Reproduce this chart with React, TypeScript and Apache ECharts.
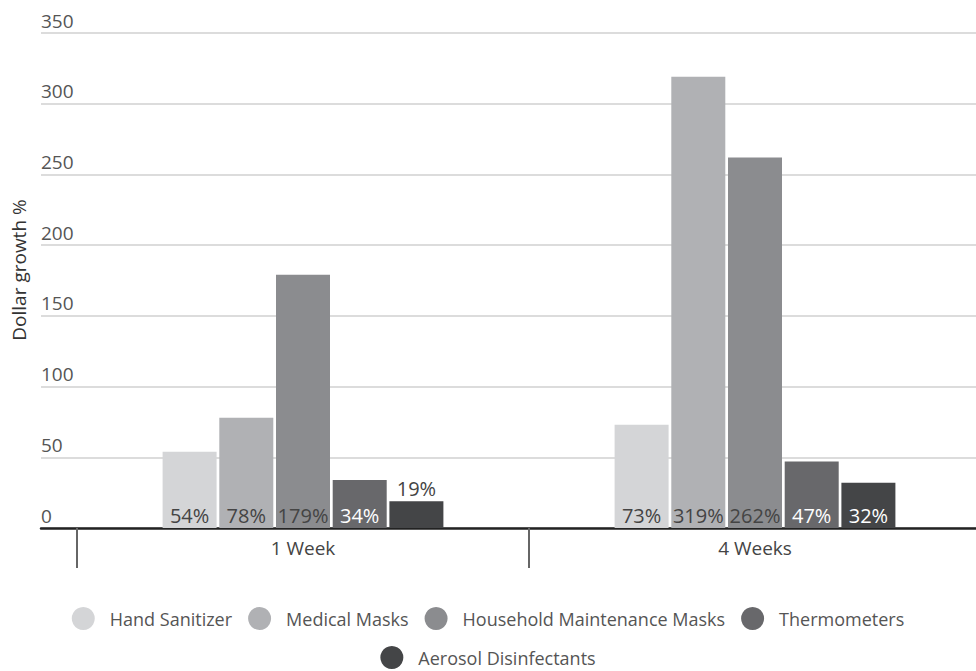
import React, { useEffect, useRef } from "react";
import * as echarts from "echarts";

const categories = ["1 Week", "4 Weeks"];
const seriesNames = [
  "Hand Sanitizer",
  "Medical Masks",
  "Household Maintenance Masks",
  "Thermometers",
  "Aerosol Disinfectants",
];
const handSanitizer = [54, 73];
const medicalMasks = [78, 319];
const householdMasks = [179, 262];
const thermometers = [34, 47];
const aerosolDisinfectants = [19, 32];
const yTicks = [0, 50, 100, 150, 200, 250, 300, 350];
const yAxisTitle = "Dollar growth %";

const seriesValues = [handSanitizer, medicalMasks, householdMasks, thermometers, aerosolDisinfectants];
const colors = ["#d4d5d7", "#b0b1b4", "#8b8c8f", "#68686b", "#444547"];
const labelColors = ["#444", "#444", "#444", "#fff", "#fff"];
const FONT = "'Open Sans', 'Noto Sans', sans-serif";
const OFF = 12; // chart canvas is shifted left by this much so it can extend past the right edge

export default function App() {
  const ref = useRef<HTMLDivElement>(null);
  useEffect(() => {
    if (!ref.current) return;
    const chart = echarts.init(ref.current, undefined, { renderer: "svg" });
    const series = seriesNames.map((name, i) => ({
      name,
      type: "bar",
      xAxisIndex: 1,
      yAxisIndex: 1,
      barWidth: 54,
      barGap: "5%",
      itemStyle: { color: colors[i] },
      label: {
        show: true,
        position: "insideBottom",
        distance: 3,
        formatter: "{c}%",
        color: labelColors[i],
        fontSize: 20,
        fontFamily: FONT,
      },
      data: seriesValues[i].map((v) =>
        v < 25
          ? { value: v, label: { position: "top", color: "#444", distance: 3 } }
          : v
      ),
    }));
    const legendItem = (names: string[], top: number) => ({
      show: true,
      top,
      left: "center",
      icon: "circle",
      itemWidth: 43,
      itemHeight: 23,
      itemGap: 16,
      textStyle: { color: "#555", fontSize: 18, fontFamily: FONT },
      data: names,
    });
    chart.setOption({
      animation: false,
      textStyle: { fontFamily: FONT },
      grid: [
        { left: 41 + OFF, width: 950, top: 33, bottom: 143, containLabel: false },
        { left: 77 + OFF, width: 904, top: 33, bottom: 143, containLabel: false },
      ],
      xAxis: [
        {
          gridIndex: 0,
          type: "value",
          min: 0,
          max: 1,
          axisLine: { show: true, onZero: false, lineStyle: { color: "#222", width: 2.5 } },
          axisTick: { show: false },
          axisLabel: { show: false },
          splitLine: { show: false },
        },
        {
          gridIndex: 1,
          type: "category",
          data: categories,
          axisLine: { show: false },
          axisTick: { show: true, length: 40, lineStyle: { color: "#666", width: 2 } },
          axisLabel: { color: "#444", fontSize: 19, margin: 10, fontFamily: FONT },
        },
      ],
      yAxis: [
        {
          gridIndex: 0,
          type: "value",
          min: yTicks[0],
          max: yTicks[yTicks.length - 1],
          interval: 50,
          axisLine: { show: false },
          axisTick: { show: false },
          axisLabel: {
            inside: true,
            margin: 0,
            align: "left",
            verticalAlign: "bottom",
            padding: [0, 0, 3, 0],
            color: "#555",
            fontSize: 19,
            fontFamily: FONT,
          },
          splitLine: { show: true, lineStyle: { color: "#d0d0d0", width: 1.5 } },
        },
        {
          gridIndex: 1,
          type: "value",
          min: yTicks[0],
          max: yTicks[yTicks.length - 1],
          interval: 50,
          show: false,
          splitLine: { show: false },
        },
      ],
      graphic: [
        {
          type: "text",
          x: 19 + OFF,
          y: 270,
          rotation: Math.PI / 2,
          style: {
            text: yAxisTitle,
            fill: "#333",
            fontSize: 19,
            fontFamily: FONT,
            align: "center",
            verticalAlign: "middle",
          },
        },
      ],
      legend: [legendItem(seriesNames.slice(0, 4), 602), legendItem(seriesNames.slice(4), 641)],
      series,
    });
    return () => chart.dispose();
  }, []);
  return (
    <div
      style={{ position: "absolute", left: 0, top: 0, width: 976, height: 671, overflow: "hidden", background: "#fff" }}
    >
      <div
        ref={ref}
        style={{ position: "absolute", left: -OFF, top: 0, width: 976 + 2 * OFF, height: 671 }}
      />
    </div>
  );
}
